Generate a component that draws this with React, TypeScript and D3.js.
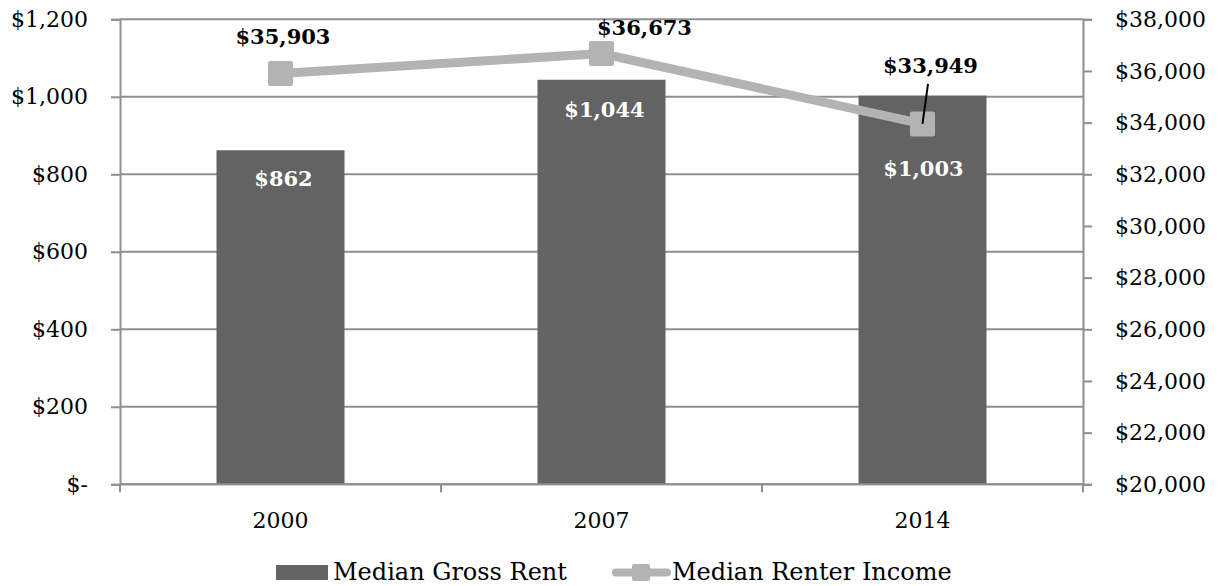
import React, { useEffect, useRef } from 'react';
import * as d3 from 'd3';

const years = ['2000', '2007', '2014'];
const grossRent = [862, 1044, 1003];
const renterIncome = [35903, 36673, 33949];
const rentTicks = [0, 200, 400, 600, 800, 1000, 1200];
const incomeTicks = [20000, 22000, 24000, 26000, 28000, 30000, 32000, 34000, 36000, 38000];

const App: React.FC = () => {
  const ref = useRef<SVGSVGElement>(null);

  useEffect(() => {
    if (!ref.current) return;
    const svg = d3.select(ref.current);
    svg.selectAll('*').remove();

    const left = 120;
    const right = 1083;
    const top = 19.3;
    const bottom = 484.3;
    const serif = '"DejaVu Serif", serif';
    const gridColor = '#8f8f8f';
    const barColor = '#636363';
    const lineColor = '#b3b3b3';

    const x = d3.scaleBand<string>().domain(years).range([left, right]).paddingInner(0).paddingOuter(0);
    const y0 = d3.scaleLinear().domain([0, 1200]).range([bottom, top]);
    const y1 = d3.scaleLinear().domain([20000, 38000]).range([bottom, top]);
    const money = d3.format('$,.0f');

    // gridlines
    svg
      .append('g')
      .selectAll('line')
      .data(rentTicks)
      .enter()
      .append('line')
      .attr('x1', left)
      .attr('x2', right)
      .attr('y1', (d) => y0(d))
      .attr('y2', (d) => y0(d))
      .attr('stroke', gridColor)
      .attr('stroke-width', 2);

    // bars
    const barW = 128;
    svg
      .append('g')
      .selectAll('rect')
      .data(grossRent)
      .enter()
      .append('rect')
      .attr('x', (d, i) => x(years[i])! + x.bandwidth() / 2 - barW / 2)
      .attr('y', (d) => y0(d))
      .attr('width', barW)
      .attr('height', (d) => bottom - y0(d))
      .attr('fill', barColor);

    // left axis
    const yAxisLeft = d3
      .axisLeft(y0)
      .tickValues(rentTicks)
      .tickSize(9)
      .tickPadding(23)
      .tickFormat((d) => ((d as number) === 0 ? '$-' : money(d as number)));
    const gl = svg.append('g').attr('transform', `translate(${left},0)`).call(yAxisLeft);

    // right axis
    const yAxisRight = d3
      .axisRight(y1)
      .tickValues(incomeTicks)
      .tickSize(9)
      .tickPadding(23)
      .tickFormat((d) => money(d as number));
    const gr = svg.append('g').attr('transform', `translate(${right},0)`).call(yAxisRight);

    // bottom axis (labels only, ticks sit on category boundaries)
    const xAxis = d3.axisBottom(x).tickSize(0).tickPadding(28);
    const gb = svg.append('g').attr('transform', `translate(0,${bottom})`).call(xAxis);
    svg
      .append('g')
      .selectAll('line')
      .data([...years.map((c) => x(c)!), right])
      .enter()
      .append('line')
      .attr('x1', (d) => d)
      .attr('x2', (d) => d)
      .attr('y1', bottom)
      .attr('y2', bottom + 8)
      .attr('stroke', gridColor)
      .attr('stroke-width', 2);

    [gl, gr, gb].forEach((g) => {
      g.selectAll('.domain').attr('stroke', gridColor).attr('stroke-width', 2);
      g.selectAll('.tick line').attr('stroke', gridColor).attr('stroke-width', 2);
      g.selectAll('text')
        .attr('fill', '#000')
        .style('font-family', serif)
        .style('font-size', '22px');
    });
    gb.select('.domain').remove();
    svg
      .append('line')
      .attr('x1', left)
      .attr('x2', right)
      .attr('y1', bottom)
      .attr('y2', bottom)
      .attr('stroke', gridColor)
      .attr('stroke-width', 2);

    // income line
    const cx = (i: number) => x(years[i])! + x.bandwidth() / 2;
    const line = d3
      .line<number>()
      .x((d, i) => cx(i))
      .y((d) => y1(d));
    svg
      .append('path')
      .datum(renterIncome)
      .attr('d', line)
      .attr('fill', 'none')
      .attr('stroke', lineColor)
      .attr('stroke-width', 9);
    const mk = 25;
    svg
      .append('g')
      .selectAll('rect')
      .data(renterIncome)
      .enter()
      .append('rect')
      .attr('x', (d, i) => cx(i) - mk / 2)
      .attr('y', (d) => y1(d) - mk / 2)
      .attr('width', mk)
      .attr('height', mk)
      .attr('rx', 2)
      .attr('fill', lineColor);

    // bar labels (white)
    const rentLabelOff = [
      [3, 36],
      [3, 37],
      [1, 80],
    ];
    svg
      .append('g')
      .selectAll('text')
      .data(grossRent)
      .enter()
      .append('text')
      .attr('x', (d, i) => cx(i) + rentLabelOff[i][0])
      .attr('y', (d, i) => y0(d) + rentLabelOff[i][1])
      .attr('text-anchor', 'middle')
      .attr('fill', '#fff')
      .style('font-family', serif)
      .style('font-weight', 'bold')
      .style('font-size', '21px')
      .text((d) => money(d));

    // income labels
    const incLabelOff = [
      [2.5, -29.5],
      [43, -18.6],
      [8, -50.6],
    ];
    svg
      .append('g')
      .selectAll('text')
      .data(renterIncome)
      .enter()
      .append('text')
      .attr('x', (d, i) => cx(i) + incLabelOff[i][0])
      .attr('y', (d, i) => y1(d) + incLabelOff[i][1])
      .attr('text-anchor', 'middle')
      .attr('fill', '#000')
      .style('font-family', serif)
      .style('font-weight', 'bold')
      .style('font-size', '21px')
      .text((d) => money(d));

    // leader line for 2014 income label
    svg
      .append('line')
      .attr('x1', cx(2) + 5.5)
      .attr('y1', y1(renterIncome[2]) - 40)
      .attr('x2', cx(2))
      .attr('y2', y1(renterIncome[2]))
      .attr('stroke', '#000')
      .attr('stroke-width', 2);

    // legend
    const lg = svg.append('g');
    lg.append('rect').attr('x', 276).attr('y', 565).attr('width', 52).attr('height', 15).attr('fill', barColor);
    lg.append('text')
      .attr('x', 333)
      .attr('y', 580)
      .style('font-family', serif)
      .style('font-size', '24px')
      .text('Median Gross Rent');
    lg.append('line')
      .attr('x1', 616)
      .attr('x2', 667)
      .attr('y1', 572.5)
      .attr('y2', 572.5)
      .attr('stroke', lineColor)
      .attr('stroke-width', 8)
      .attr('stroke-linecap', 'round');
    lg.append('rect')
      .attr('x', 632)
      .attr('y', 564)
      .attr('width', 18)
      .attr('height', 17)
      .attr('rx', 2)
      .attr('fill', lineColor);
    lg.append('text')
      .attr('x', 672)
      .attr('y', 580)
      .style('font-family', serif)
      .style('font-size', '24px')
      .text('Median Renter Income');
  }, []);

  return (
    <svg
      ref={ref}
      width={1219}
      height={586}
      style={{ position: 'absolute', left: 0, top: 0, background: '#fff' }}
    />
  );
};

export default App;
